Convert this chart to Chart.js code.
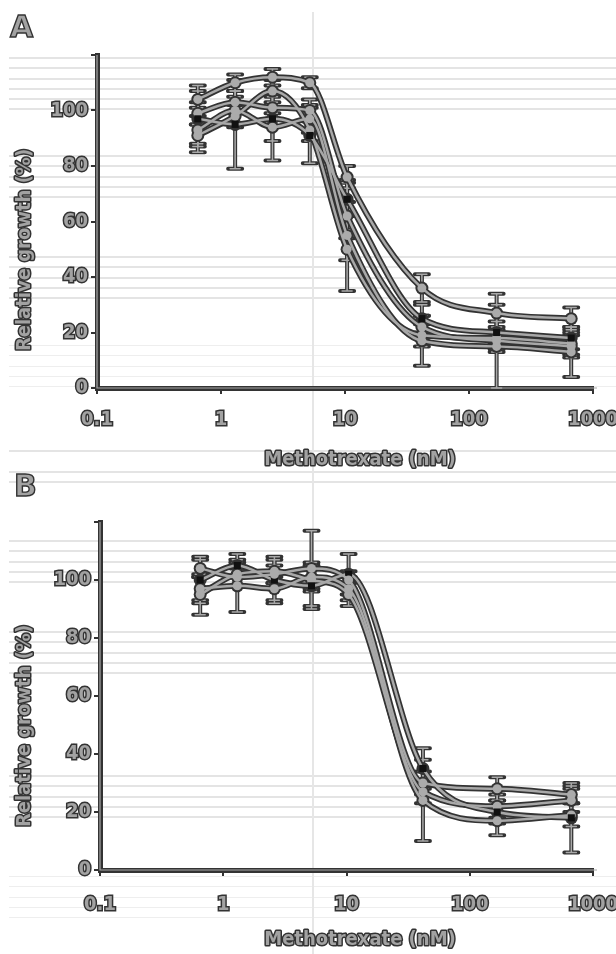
<!DOCTYPE html>
<html>
<head>
<meta charset="utf-8">
<title>Methotrexate dose response</title>
<script src="https://cdn.jsdelivr.net/npm/chart.js@4.4.1/dist/chart.umd.min.js"></script>
<style>
  html, body { margin: 0; padding: 0; background: #fff; }
  #page { position: relative; width: 616px; height: 954px; overflow: hidden; }
  .band { position: absolute; left: 9px; right: 0;
    background: repeating-linear-gradient(to bottom, #e4e4e4 0 2px, transparent 2px 10.3px); }
  .band.faint { background: repeating-linear-gradient(to bottom, #eeeeee 0 1px, transparent 1px 10.3px); }
  .vline { position: absolute; left: 312px; top: 12px; bottom: 0; width: 2px; background: #e6e6e6; }
  .panel { position: absolute; left: 0; width: 616px; height: 477px; }
  #panelA { top: 0; }
  #panelB { top: 477px; }
  .letter { position: absolute; font: bold 30px/1 'DejaVu Sans', sans-serif; color: #a2a2a2;
    -webkit-text-stroke: 1.4px #333; }
</style>
</head>
<body>
<div id="page">
  <div class="band" style="top:57px;height:55px"></div>
  <div class="band" style="top:155px;height:48px"></div>
  <div class="band" style="top:256px;height:48px"></div>
  <div class="band faint" style="top:345px;height:48px"></div>
  <div class="band" style="top:450px;height:10px"></div>
  <div class="band" style="top:471px;height:14px"></div>
  <div class="band" style="top:540px;height:48px"></div>
  <div class="band" style="top:631px;height:48px"></div>
  <div class="band" style="top:775px;height:48px"></div>
  <div class="band faint" style="top:876px;height:48px"></div>
  <div class="vline"></div>

  <div class="panel" id="panelA"><canvas id="chartA" width="616" height="477"></canvas></div>
  <div class="panel" id="panelB"><canvas id="chartB" width="616" height="477"></canvas></div>

  <div class="letter" style="left:10px;top:12px">A</div>
  <div class="letter" style="left:14px;top:471px">B</div>
</div>

<script>
(function () {
  'use strict';

  // doses (nM) and axis ticks
  const DOSES = [0.65, 1.3, 2.6, 5.2, 10.4, 41.7, 167, 667];
  const X_TICKS = [0.1, 1, 10, 100, 1000];
  const X_TICK_LABELS = ['0.1', '1', '10', '100', '1000'];
  const Y_TICKS = [0, 20, 40, 60, 80, 100, 120];
  const Y_TICK_LABELS = ['0', '20', '40', '60', '80', '100', ''];
  const X_TITLE = 'Methotrexate (nM)';
  const Y_TITLE = 'Relative growth (%)';

  // panel A: relative growth (%) and error
  const A1 = [104, 110, 112, 110, 76, 36, 27, 25];
  const A1_ERR = [3, 3, 3, 2, 4, 5, 7, 4];
  const A2 = [97, 95, 97, 91, 68, 25, 20, 18];
  const A2_ERR = [12, 16, 15, 10, 6, 5, 4, 4];
  const A3 = [99, 103, 101, 100, 62, 22, 17, 15];
  const A3_ERR = [4, 4, 4, 4, 5, 4, 4, 4];
  const A4 = [93, 100, 94, 97, 55, 17, 15, 13];
  const A4_ERR = [5, 5, 5, 5, 20, 9, 15, 9];
  const A5 = [91, 98, 107, 93, 50, 19, 18, 16];
  const A5_ERR = [4, 4, 4, 4, 4, 4, 4, 4];

  // panel B
  const B1 = [104, 101, 102, 104, 100, 30, 28, 26];
  const B1_ERR = [3, 3, 3, 13, 3, 4, 4, 3];
  const B2 = [100, 105, 100, 98, 102, 35, 20, 18];
  const B2_ERR = [8, 4, 8, 8, 7, 7, 4, 12];
  const B3 = [97, 98, 97, 101, 97, 24, 17, 19];
  const B3_ERR = [4, 9, 4, 4, 4, 14, 5, 4];
  const B4 = [95, 102, 103, 100, 95, 27, 22, 24];
  const B4_ERR = [7, 4, 4, 4, 4, 4, 4, 4];

  const DARK = '#333333';
  const GRAY = '#a8a8a8';
  const FONT = "'DejaVu Sans Condensed', 'Liberation Sans Narrow', 'DejaVu Sans', sans-serif";

  function buildDatasets(series) {
    var outer = [], inner = [];
    series.forEach(function (s) {
      var data = DOSES.map(function (d, i) { return { x: d, y: s.values[i] }; });
      outer.push({
        data: data, order: 2,
        borderColor: DARK, borderWidth: 6,
        pointRadius: 6.5, pointBackgroundColor: DARK, pointBorderWidth: 0,
        cubicInterpolationMode: 'monotone',
      });
      inner.push({
        data: data, order: 1,
        borderColor: GRAY, borderWidth: 2.5,
        pointStyle: s.black ? 'rect' : 'circle',
        pointRadius: s.black ? 5 : 4.5,
        pointBackgroundColor: s.black ? '#111' : '#ababab',
        pointBorderWidth: 0,
        cubicInterpolationMode: 'monotone',
      });
    });
    return outer.concat(inner);
  }

  function decorPlugin(series, titlePos) {
    return {
      id: 'decor',
      beforeDatasetsDraw: function (chart) {
        var ctx = chart.ctx, xs = chart.scales.x, ys = chart.scales.y;
        [[DARK, 4, 7], [GRAY, 1.5, 5]].forEach(function (pass) {
          ctx.save();
          ctx.strokeStyle = pass[0];
          ctx.lineWidth = pass[1];
          ctx.lineCap = 'round';
          series.forEach(function (s) {
            DOSES.forEach(function (d, i) {
              var px = xs.getPixelForValue(d);
              var lo = ys.getPixelForValue(Math.max(0, s.values[i] - s.errors[i]));
              var hi = ys.getPixelForValue(s.values[i] + s.errors[i]);
              var w = pass[2];
              ctx.beginPath();
              ctx.moveTo(px, lo); ctx.lineTo(px, hi);
              ctx.moveTo(px - w, lo); ctx.lineTo(px + w, lo);
              ctx.moveTo(px - w, hi); ctx.lineTo(px + w, hi);
              ctx.stroke();
            });
          });
          ctx.restore();
        });
      },
      afterDraw: function (chart) {
        var ctx = chart.ctx, a = chart.chartArea;
        // light core of the double axis lines
        ctx.save();
        ctx.strokeStyle = GRAY;
        ctx.lineWidth = 1.2;
        ctx.beginPath();
        ctx.moveTo(a.left, a.top); ctx.lineTo(a.left, a.bottom); ctx.lineTo(a.right + 4, a.bottom);
        ctx.stroke();
        ctx.restore();

        // axis titles, outlined like the tick labels
        ctx.save();
        ctx.font = 'bold 20px ' + FONT;
        ctx.textAlign = 'center';
        ctx.textBaseline = 'middle';
        ctx.lineJoin = 'round';
        ctx.lineWidth = 3;
        ctx.strokeStyle = DARK;
        ctx.fillStyle = '#a2a2a2';
        ctx.strokeText(X_TITLE, titlePos.x[0], titlePos.x[1]);
        ctx.fillText(X_TITLE, titlePos.x[0], titlePos.x[1]);
        ctx.translate(titlePos.y[0], titlePos.y[1]);
        ctx.rotate(-Math.PI / 2);
        ctx.strokeText(Y_TITLE, 0, 0);
        ctx.fillText(Y_TITLE, 0, 0);
        ctx.restore();
      },
    };
  }

  function makeChart(canvas, series, layout) {
    var tickFont = { family: FONT, size: 20, weight: 'bold' };
    return new Chart(canvas, {
      type: 'line',
      data: { datasets: buildDatasets(series) },
      options: {
        responsive: false,
        animation: false,
        devicePixelRatio: 1,
        layout: { padding: { top: layout.top, right: 23, left: 0, bottom: 0 } },
        plugins: { legend: { display: false }, tooltip: { enabled: false } },
        scales: {
          x: {
            type: 'logarithmic',
            min: 0.1, max: 1000,
            afterBuildTicks: function (s) { s.ticks = X_TICKS.map(function (v) { return { value: v }; }); },
            afterFit: function (s) {
              s.height = layout.xHeight;
              // the "1000" label may run to the page edge, as in the original figure
              s.paddingLeft = 0;
              s.paddingRight = 0;
            },
            ticks: {
              autoSkip: false, maxRotation: 0,
              padding: layout.xPad,
              font: tickFont, color: '#a2a2a2',
              textStrokeColor: DARK, textStrokeWidth: 3,
              callback: function (v) { return X_TICK_LABELS[X_TICKS.indexOf(v)]; },
            },
            grid: { drawOnChartArea: false, color: DARK, lineWidth: 2, tickLength: 6 },
            border: { color: DARK, width: 5 },
          },
          y: {
            type: 'linear',
            min: 0, max: 120,
            afterBuildTicks: function (s) { s.ticks = Y_TICKS.map(function (v) { return { value: v }; }); },
            afterFit: function (s) { s.width = layout.yWidth; },
            ticks: {
              padding: 3,
              font: tickFont, color: '#a2a2a2',
              textStrokeColor: DARK, textStrokeWidth: 3,
              callback: function (v) { return Y_TICK_LABELS[Y_TICKS.indexOf(v)]; },
            },
            grid: { drawOnChartArea: false, color: DARK, lineWidth: 2, tickLength: 6 },
            border: { color: DARK, width: 5 },
          },
        },
      },
      plugins: [decorPlugin(series, layout.titles)],
    });
  }

  makeChart(document.getElementById('chartA'), [
    { values: A1, errors: A1_ERR },
    { values: A2, errors: A2_ERR, black: true },
    { values: A3, errors: A3_ERR },
    { values: A4, errors: A4_ERR },
    { values: A5, errors: A5_ERR },
  ], { top: 55, xHeight: 89, yWidth: 97, xPad: 14, titles: { x: [360, 460], y: [25, 250] } });

  makeChart(document.getElementById('chartB'), [
    { values: B1, errors: B1_ERR },
    { values: B2, errors: B2_ERR, black: true },
    { values: B3, errors: B3_ERR },
    { values: B4, errors: B4_ERR },
  ], { top: 45, xHeight: 84, yWidth: 100, xPad: 17, titles: { x: [360, 463], y: [25, 249] } });
})();
</script>
</body>
</html>
